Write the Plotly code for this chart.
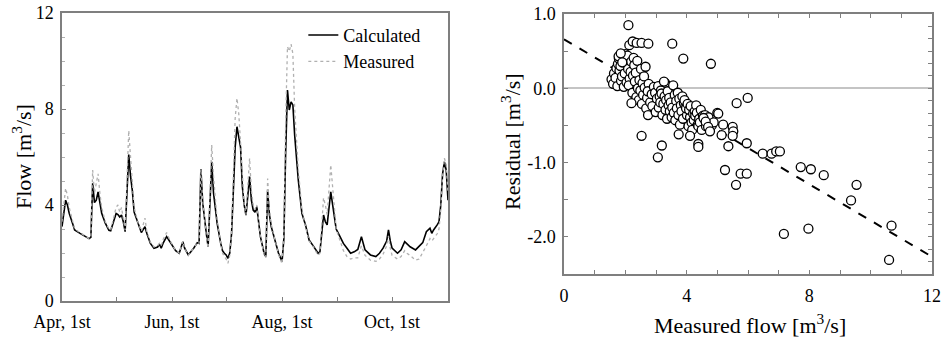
import plotly.graph_objects as go
import pandas as pd

# ---------------- Left panel: flow time series ----------------
start_date = "2009-04-01"
day_offsets = [0, 1, 2, 3, 4, 6, 7, 10, 13, 15, 16, 17, 18, 19, 20, 21, 22, 24, 26, 27,
               29, 30, 31, 32, 33, 34, 35, 36, 37, 38, 39, 40, 41, 42, 44, 46, 47, 49, 51, 53,
               54, 55, 56, 58, 60, 61, 63, 65, 67, 68, 69, 70, 73, 75, 76, 77, 78, 79, 80, 81,
               82, 83, 84, 86, 88, 89, 90, 91, 92, 93, 94, 95, 96, 97, 98, 99, 100, 101, 102, 103,
               104, 105, 106, 107, 108, 109, 110, 112, 113, 114, 115, 116, 118, 120, 122, 123, 124, 125, 126, 127,
               128, 129, 131, 133, 135, 137, 139, 141, 142, 143, 144, 145, 146, 147, 149, 150, 151, 152, 154, 156,
               158, 160, 162, 164, 166, 168, 171, 174, 176, 178, 180, 181, 182, 183, 186, 188, 190, 191, 193, 196,
               198, 200, 202, 204, 205, 206, 208, 209, 210, 211, 212, 213, 214]

calculated = [3.1, 3.6, 4.2, 4.0, 3.65, 3.2, 2.96, 2.82, 2.7, 2.6, 2.65, 4.9, 4.1, 4.2, 4.55, 4.1, 3.65, 3.24, 2.95, 2.93,
              3.45, 3.65, 3.6, 3.5, 3.58, 3.3, 2.89, 4.5, 6.1, 5.2, 4.6, 3.7, 3.5, 3.24, 2.85, 3.1, 2.82, 2.4, 2.2, 2.25,
              2.37, 2.2, 2.4, 2.68, 2.45, 2.33, 2.1, 1.99, 2.47, 2.2, 2.05, 1.92, 2.2, 2.43, 2.4, 5.5, 4.1, 3.3, 2.82, 2.26,
              4.3, 5.8, 4.5, 3.24, 2.4, 2.1, 1.99, 1.92, 1.78, 2.0, 2.8, 4.6, 6.4, 7.26, 6.9, 6.4, 4.76, 4.0, 3.58, 4.3,
              5.18, 4.2, 3.79, 3.7, 3.93, 3.3, 2.68, 2.0, 1.85, 4.6, 3.6, 3.1, 2.6, 2.0, 1.64, 2.6, 6.2, 8.79, 7.96, 8.3,
              8.17, 6.9, 5.04, 3.65, 3.17, 2.54, 2.33, 2.13, 1.99, 2.05, 3.0, 3.58, 3.3, 3.17, 4.55, 4.0, 3.65, 3.0, 2.7, 2.4,
              2.2, 1.99, 2.05, 2.15, 2.68, 2.13, 1.92, 1.85, 1.99, 2.2, 2.5, 2.96, 2.5, 2.2, 1.99, 2.13, 2.47, 2.4, 2.26, 2.13,
              2.26, 2.43, 2.89, 3.03, 2.82, 2.96, 3.17, 3.3, 4.0, 5.3, 5.8, 5.46, 4.2]

measured = [3.3, 4.0, 4.7, 4.4, 3.9, 3.3, 3.0, 2.85, 2.7, 2.6, 2.7, 5.46, 4.5, 4.9, 5.3, 4.5, 3.9, 3.3, 3.0, 2.95,
            3.6, 3.9, 4.0, 3.7, 3.9, 3.5, 2.95, 5.0, 7.1, 6.0, 4.8, 3.9, 3.6, 3.3, 2.9, 3.45, 2.9, 2.45, 2.25, 2.3,
            2.4, 2.3, 2.55, 2.85, 2.5, 2.35, 2.1, 2.0, 2.5, 2.2, 2.05, 1.9, 2.2, 2.45, 2.4, 5.5, 4.2, 3.3, 2.7, 2.2,
            4.8, 6.5, 5.2, 3.4, 2.4, 2.0, 1.85, 1.75, 1.57, 1.9, 2.9, 5.2, 7.6, 8.45, 7.8, 6.6, 5.0, 4.0, 3.6, 5.0,
            5.95, 4.6, 4.0, 3.8, 4.0, 3.3, 2.7, 1.95, 1.8, 5.1, 3.8, 3.2, 2.6, 1.95, 1.55, 2.8, 7.5, 10.6, 10.4, 10.7,
            10.3, 8.0, 5.5, 3.8, 3.1, 2.5, 2.3, 2.05, 1.9, 2.0, 3.2, 4.3, 4.0, 3.6, 5.67, 4.6, 3.9, 3.0, 2.5, 2.1,
            1.85, 1.75, 1.8, 1.8, 2.3, 1.9, 1.7, 1.65, 1.75, 1.95, 2.3, 2.7, 2.2, 1.9, 1.75, 1.85, 2.1, 2.0, 1.9, 1.7,
            1.75, 2.0, 2.3, 2.6, 2.5, 2.6, 2.8, 3.0, 3.8, 5.2, 5.95, 5.7, 4.5]

month_tick_dates = ["2009-04-01", "2009-06-01", "2009-08-01", "2009-10-01"]
month_tick_labels = ["Apr, 1st", "Jun, 1st", "Aug, 1st", "Oct, 1st"]
minor_month_dates = ["2009-05-01", "2009-07-01", "2009-09-01"]
flow_ticks = [0, 4, 8, 12]

# ---------------- Right panel: residual scatter ----------------
meas_flow = [
    1.55, 1.63, 1.6, 1.71, 1.68, 1.76, 1.74, 1.81, 1.79, 1.86, 1.84, 1.91, 1.89, 1.95, 1.93, 2.0, 1.98, 2.04, 2.03, 2.09,
    2.07, 2.14, 2.11, 2.19, 2.17, 2.23, 2.27, 2.25, 2.31, 2.29, 2.36, 2.34, 2.41, 2.39, 2.46, 2.44, 2.51, 2.49, 2.56, 2.54,
    2.61, 2.58, 2.66, 2.63, 2.71, 2.68, 2.76, 2.73, 2.81, 1.78, 1.85, 1.9, 2.2, 2.74, 3.3,
    2.86, 2.93, 2.88, 2.97, 3.03, 2.99, 3.07, 3.12, 3.09, 3.16, 3.14, 3.21, 3.18, 3.26, 3.24, 3.31, 3.28, 3.36, 3.33, 3.41,
    3.38, 3.45, 3.43, 3.51, 3.48, 3.56, 3.53, 3.61, 3.58, 3.66, 3.63, 3.71, 3.68, 3.76, 3.73, 3.81, 3.78, 3.86, 3.83, 3.91,
    3.88, 3.96, 3.93, 4.01, 3.98, 4.06, 4.03, 4.11, 4.08, 4.16, 4.13, 4.21, 4.18, 4.26, 4.23, 4.31, 4.28, 4.36, 4.33, 4.41,
    4.38, 4.46, 4.43, 4.53, 4.49, 4.58, 4.63, 4.6, 4.68, 4.74, 4.71, 4.82, 4.88,
    2.10, 2.13, 2.24, 2.37, 2.53, 2.75, 3.53, 3.89, 4.79, 2.53, 3.19, 3.06, 4.38, 4.38, 3.74, 4.11, 5.0,
    5.63, 5.99, 5.03, 4.55, 4.62, 4.7, 4.76, 5.19, 5.5, 5.52, 5.5, 5.14, 5.36, 5.96, 6.48, 6.77, 6.92, 7.04,
    7.72, 8.05, 5.25, 5.61, 5.76, 5.96, 8.47, 9.54, 9.36, 10.68, 10.6, 7.17, 7.97]

residual = [
    0.12, 0.2, 0.06, 0.27, 0.14, 0.33, 0.03, 0.24, 0.4, 0.1, 0.3, 0.43, 0.16, 0.02, 0.35, 0.46, 0.2, 0.08, 0.4, 0.26,
    0.44, 0.13, 0.04, 0.36, 0.22, -0.06, 0.41, 0.17, 0.09, 0.31, -0.12, 0.21, 0.0, 0.37, 0.11, -0.16, 0.26, -0.03, 0.07, -0.21,
    0.16, -0.09, 0.29, 0.01, -0.13, -0.27, 0.06, -0.04, -0.19, 0.43, 0.47, 0.35, -0.2, -0.36, 0.07,
    -0.08, 0.02, -0.24, -0.06, -0.14, -0.32, 0.03, -0.11, -0.26, -0.03, -0.19, -0.36, -0.07, 0.09, -0.21, -0.29, -0.11, -0.41, -0.16, -0.23,
    -0.04, -0.31, -0.13, -0.39, -0.19, 0.04, -0.26, -0.09, -0.33, -0.17, -0.43, -0.06, -0.27, -0.14, -0.36, -0.23, -0.49, -0.11, -0.31, -0.2,
    -0.41, -0.24, -0.16, -0.36, -0.27, -0.51, -0.21, -0.39, -0.29, -0.46, -0.24, -0.34, -0.56, -0.31, -0.43, -0.23, -0.37, -0.49, -0.33, -0.41,
    -0.51, -0.29, -0.46, -0.37, -0.56, -0.41, -0.51, -0.36, -0.44, -0.53, -0.39, -0.5, -0.46,
    0.85, 0.58, 0.63, 0.61, 0.61, 0.60, 0.60, 0.40, 0.33, -0.64, -0.77, -0.93, -0.75, -0.79, -0.62, -0.64, -0.33,
    -0.20, -0.13, -0.34, -0.40, -0.45, -0.52, -0.58, -0.49, -0.52, -0.58, -0.64, -0.63, -0.78, -0.74, -0.88, -0.88, -0.85, -0.85,
    -1.06, -1.09, -1.10, -1.30, -1.15, -1.15, -1.17, -1.30, -1.51, -1.85, -2.31, -1.96, -1.89]

fit_intercept = 0.66
fit_slope = -0.244
flow_range = [0, 12]
residual_ticks = [-2, -1, 0, 1]
residual_tick_labels = ["-2.0", "-1.0", "0.0", "1.0"]

# ---------------- Build figure ----------------
FONT = "Liberation Serif"
AXIS_COLOR = "#7f7f7f"

dates = pd.Timestamp(start_date) + pd.to_timedelta(day_offsets, unit="D")

fig = go.Figure()

fig.add_trace(go.Scatter(
    x=dates, y=calculated, name="Calculated", mode="lines",
    line=dict(color="black", width=1.6), xaxis="x", yaxis="y"))
fig.add_trace(go.Scatter(
    x=dates, y=measured, name="Measured", mode="lines",
    line=dict(color="#b0b0b0", width=1.3, dash="dot"), xaxis="x", yaxis="y"))

fit_y = [fit_intercept + fit_slope * v for v in flow_range]
fig.add_trace(go.Scatter(
    x=flow_range, y=fit_y, mode="lines", showlegend=False,
    line=dict(color="black", width=2, dash="dash"), xaxis="x2", yaxis="y2"))
fig.add_trace(go.Scatter(
    x=meas_flow, y=residual, mode="markers", showlegend=False,
    marker=dict(symbol="circle", size=9, color="white", line=dict(color="black", width=1.3)),
    xaxis="x2", yaxis="y2"))
# empty trace so the right-side tick axis is drawn
fig.add_trace(go.Scatter(x=[], y=[], showlegend=False, xaxis="x2", yaxis="y3"))

W, H = 942, 337
def px_x(a, b):
    return [a / W, b / W]
def px_y(top, bottom):
    return [1 - bottom / H, 1 - top / H]

tickfont = dict(family=FONT, size=18, color="black")

fig.update_layout(
    width=W, height=H, autosize=False,
    margin=dict(l=0, r=0, t=0, b=0, autoexpand=False),
    paper_bgcolor="white", plot_bgcolor="white",
    font=dict(family=FONT, size=18, color="black"),
    showlegend=True,
    legend=dict(x=0.322, y=0.95, xanchor="left", yanchor="top",
                bgcolor="rgba(0,0,0,0)", font=dict(family=FONT, size=18),
                tracegroupgap=0, itemwidth=30),
    xaxis=dict(
        domain=px_x(62, 448), anchor="y", type="date", automargin=False,
        range=["2009-04-01", "2009-11-01"],
        tickmode="array", tickvals=month_tick_dates, ticktext=month_tick_labels,
        ticks="inside", ticklen=4, tickcolor=AXIS_COLOR, tickwidth=1,
        minor=dict(tickmode="array", tickvals=minor_month_dates, ticks="inside",
                   ticklen=4, tickcolor=AXIS_COLOR),
        showline=True, linecolor=AXIS_COLOR, linewidth=1.5, mirror=True,
        showgrid=False, zeroline=False, tickfont=tickfont, ticklabelstandoff=4),
    yaxis=dict(
        domain=px_y(13, 301), anchor="x", range=[0, 12], automargin=False,
        tickmode="array", tickvals=flow_ticks,
        ticks="inside", ticklen=4, tickcolor=AXIS_COLOR, tickwidth=1,
        minor=dict(dtick=1, ticks="inside", ticklen=3, tickcolor="#b0b0b0"),
        showline=True, linecolor=AXIS_COLOR, linewidth=1.5, mirror=True,
        showgrid=False, zeroline=False, tickfont=tickfont, ticklabelstandoff=3),
    xaxis2=dict(
        domain=px_x(564, 932), anchor="y2", range=flow_range, automargin=False,
        tickmode="array", tickvals=[0, 4, 8, 12],
        ticks="inside", ticklen=4, tickcolor=AXIS_COLOR, tickwidth=1,
        minor=dict(dtick=1, ticks="inside", ticklen=4, tickcolor=AXIS_COLOR),
        showline=True, linecolor=AXIS_COLOR, linewidth=1.5, mirror="ticks",
        showgrid=False, zeroline=False, tickfont=tickfont, ticklabelstandoff=5),
    yaxis2=dict(
        domain=px_y(14, 274), anchor="x2", range=[-2.5, 1.0], automargin=False,
        tickmode="array", tickvals=residual_ticks, ticktext=residual_tick_labels,
        ticks="inside", ticklen=4, tickcolor=AXIS_COLOR, tickwidth=1,
        minor=dict(dtick=0.5, ticks="inside", ticklen=4, tickcolor=AXIS_COLOR),
        showline=True, linecolor=AXIS_COLOR, linewidth=1.5, mirror=True,
        showgrid=False, zeroline=True, zerolinecolor="#c4c4c4", zerolinewidth=1.5,
        tickfont=tickfont, ticklabelstandoff=3),
    yaxis3=dict(
        overlaying="y2", anchor="x2", side="right", range=[-2.5, 1.0], automargin=False,
        tick0=0, dtick=1/6, ticks="inside", ticklen=4, tickcolor=AXIS_COLOR,
        showticklabels=False, showline=False, showgrid=False, zeroline=False),
)

title_font = dict(family=FONT, size=22, color="black")
fig.add_annotation(text="Flow [m<sup>3</sup>/s]", x=22 / W, y=1 - 157 / H,
                   xref="paper", yref="paper", textangle=-90, showarrow=False,
                   font=title_font, xanchor="center", yanchor="middle")
fig.add_annotation(text="Residual [m<sup>3</sup>/s]", x=511 / W, y=1 - 142 / H,
                   xref="paper", yref="paper", textangle=-90, showarrow=False,
                   font=title_font, xanchor="center", yanchor="middle")
fig.add_annotation(text="Measured flow [m<sup>3</sup>/s]", x=750 / W, y=1 - 324 / H,
                   xref="paper", yref="paper", showarrow=False,
                   font=title_font, xanchor="center", yanchor="middle")

fig.write_html("out.html", config={"displayModeBar": False})

# remove the default page margin so the figure sits at the window's top-left corner
with open("out.html", "r", encoding="utf-8") as fh:
    html = fh.read()
html = html.replace("<head>", "<head><style>html,body{margin:0;padding:0;overflow:hidden;}</style>", 1)
with open("out.html", "w", encoding="utf-8") as fh:
    fh.write(html)
